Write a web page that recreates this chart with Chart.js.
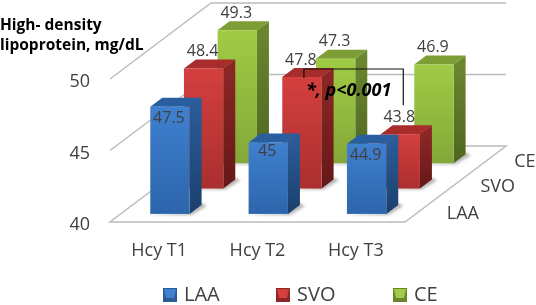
<!DOCTYPE html>
<html>
<head>
<meta charset="utf-8">
<style>
  html, body { margin: 0; padding: 0; background: #fff; }
  #wrap { width: 536px; height: 305px; }
</style>
<script src="https://cdn.jsdelivr.net/npm/chart.js@4/dist/chart.umd.js"></script>
</head>
<body>
<div id="wrap"><canvas id="myChart"></canvas></div>
<script>
const categories = ['Hcy T1', 'Hcy T2', 'Hcy T3'];
const seriesNames = ['LAA', 'SVO', 'CE'];
const laaValues = [47.5, 45, 44.9];
const svoValues = [48.4, 47.8, 43.8];
const ceValues = [49.3, 47.3, 46.9];
const titleLines = ['High- density', 'lipoprotein, mg/dL'];
const pValueText = '*, p<0.001';

const FONT = '"Open Sans", "Noto Sans", sans-serif';
const TEXT = '#404040';

// fake 3d: floor depth and the depth of one box
const floorDx = 101, floorDy = 76;
const boxDx = 12, boxDy = 9;
const rowGap = 0.32;

const palette = [
    { front: ['#3f80cf', '#2c65ab'], side: ['#2a5b97', '#1b3f6c'], top: '#2a5f9f' },
    { front: ['#d43f3f', '#ab2f2f'], side: ['#8c2626', '#651818'], top: '#a82c2c' },
    { front: ['#a0cb45', '#84a838'], side: ['#6a862f', '#4e6620'], top: '#7d9e34' }
];

function rowOffset(row) {
    const t = (row + rowGap) / seriesNames.length;
    return { x: floorDx * t, y: floorDy * t };
}

class Bar3DController extends Chart.BarController {
    draw() {
        const ctx = this.chart.ctx;
        const colors = palette[this.index];
        const off = rowOffset(this.index);
        const floorY = this.chart.scales.y.getPixelForValue(this.chart.scales.y.min);
        this.getMeta().data.forEach(bar => {
            const p = bar.getProps(['x', 'y', 'width'], true);
            const l = p.x - p.width / 2 + off.x;
            const r = l + p.width;
            const t = p.y - off.y;
            const b = floorY - off.y;

            // soft shadow on the floor
            ctx.save();
            ctx.filter = 'blur(1.5px)';
            ctx.fillStyle = 'rgba(0,0,0,0.3)';
            ctx.beginPath();
            ctx.moveTo(l - 4, b + 1);
            ctx.lineTo(r + 2, b + 1);
            ctx.lineTo(r + boxDx + 5, b - boxDy + 1);
            ctx.lineTo(r + boxDx, b - boxDy - 2);
            ctx.lineTo(r, b - 2);
            ctx.closePath();
            ctx.fill();
            ctx.restore();

            // side
            let g = ctx.createLinearGradient(0, t, 0, b);
            g.addColorStop(0, colors.side[0]);
            g.addColorStop(1, colors.side[1]);
            ctx.fillStyle = g;
            ctx.beginPath();
            ctx.moveTo(r, t);
            ctx.lineTo(r + boxDx, t - boxDy);
            ctx.lineTo(r + boxDx, b - boxDy);
            ctx.lineTo(r, b);
            ctx.closePath();
            ctx.fill();

            // top
            ctx.fillStyle = colors.top;
            ctx.beginPath();
            ctx.moveTo(l, t);
            ctx.lineTo(l + boxDx, t - boxDy);
            ctx.lineTo(r + boxDx, t - boxDy);
            ctx.lineTo(r, t);
            ctx.closePath();
            ctx.fill();

            // front
            g = ctx.createLinearGradient(0, t, 0, b);
            g.addColorStop(0, colors.front[0]);
            g.addColorStop(1, colors.front[1]);
            ctx.fillStyle = g;
            ctx.fillRect(l, t, p.width, b - t);
        });
    }
}
Bar3DController.id = 'bar3d';
Bar3DController.defaults = Chart.BarController.defaults;
Bar3DController.overrides = Chart.BarController.overrides;
Chart.register(Bar3DController);

const backdrop = {
    id: 'backdrop',
    beforeDatasetsDraw(chart) {
        const { ctx, scales: { x, y } } = chart;
        const left = x.left, right = x.right;
        ctx.save();
        ctx.strokeStyle = '#bcbcbc';
        ctx.lineWidth = 1.5;
        // floor
        const y0 = y.getPixelForValue(40);
        ctx.beginPath();
        ctx.moveTo(left, y0);
        ctx.lineTo(right, y0);
        ctx.lineTo(right + floorDx, y0 - floorDy);
        ctx.lineTo(left + floorDx, y0 - floorDy);
        ctx.closePath();
        ctx.stroke();
        // wall lines
        y.ticks.forEach(tick => {
            if (tick.value === 40) return;
            const py = y.getPixelForValue(tick.value);
            ctx.beginPath();
            ctx.moveTo(left, py);
            ctx.lineTo(left + floorDx, py - floorDy);
            ctx.lineTo(right + floorDx, py - floorDy);
            ctx.stroke();
        });
        ctx.restore();
    },
    afterDraw(chart) {
        const { ctx, scales: { x, y } } = chart;
        ctx.save();
        ctx.textBaseline = 'middle';

        // value labels
        ctx.font = '16px ' + FONT;
        ctx.fillStyle = TEXT;
        ctx.textAlign = 'center';
        chart.data.datasets.forEach((ds, row) => {
            const off = rowOffset(row);
            chart.getDatasetMeta(row).data.forEach((bar, i) => {
                const lx = bar.x + off.x;
                const topY = bar.y - off.y;
                // front row sits inside the box, the rest float above it
                const ly = row === 0 ? topY + (ds.data[i] === 45 ? 9 : 12) : topY - 17;
                ctx.fillText(String(ds.data[i]), lx - 1, ly);
            });
        });

        // depth axis labels
        ctx.font = '18px ' + FONT;
        ctx.textAlign = 'left';
        const y0 = y.getPixelForValue(40);
        seriesNames.forEach((name, row) => {
            const t = (row + 0.5) / seriesNames.length;
            ctx.fillText(name, x.right + floorDx * t + 25, y0 - floorDy * t + 3 + (row === 0 ? 2 : 0));
        });

        // significance bracket between the SVO boxes
        const off = rowOffset(1);
        const svo = chart.getDatasetMeta(1).data;
        const x1 = svo[1].x + off.x + 2, x2 = svo[2].x + off.x + 3;
        const y1 = svo[1].y - off.y, y2 = svo[2].y - off.y;
        ctx.strokeStyle = '#111';
        ctx.lineWidth = 1.2;
        ctx.beginPath();
        ctx.moveTo(x1, y1 + 1);
        ctx.lineTo(x1, y1 - 8);
        ctx.lineTo(x2, y1 - 8);
        ctx.lineTo(x2, y2 - 29);
        ctx.stroke();
        ctx.fillStyle = '#000';
        ctx.font = 'italic bold 18px ' + FONT;
        ctx.fillText(pValueText, x1 + 2, y1 + 14);

        // legend
        const markerX = [163, 276, 393];
        ctx.font = '20px ' + FONT;
        seriesNames.forEach((name, i) => {
            const mx = markerX[i], my = 288, s = 14;
            const c = palette[i];
            ctx.fillStyle = c.side[0];
            ctx.fillRect(mx, my, s, s);
            ctx.fillStyle = c.front[0];
            ctx.beginPath();
            ctx.moveTo(mx + 1, my + 1);
            ctx.lineTo(mx + s - 1, my + 1);
            ctx.lineTo(mx + s - 3, my + s - 4);
            ctx.lineTo(mx + 3, my + s - 4);
            ctx.closePath();
            ctx.fill();
            ctx.fillStyle = TEXT;
            ctx.fillText(name, mx + 21, 295);
        });
        ctx.restore();
    }
};

new Chart(document.getElementById('myChart'), {
    type: 'bar3d',
    data: {
        labels: categories,
        datasets: [
            { label: seriesNames[0], data: laaValues },
            { label: seriesNames[1], data: svoValues },
            { label: seriesNames[2], data: ceValues }
        ]
    },
    plugins: [backdrop],
    options: {
        responsive: true,
        maintainAspectRatio: false,
        animation: false,
        clip: false,
        grouped: false,
        barPercentage: 0.4,
        categoryPercentage: 1,
        layout: { padding: { left: 0, right: 131, top: 0, bottom: 33 } },
        plugins: {
            legend: { display: false },
            tooltip: { enabled: false },
            title: {
                display: true,
                text: titleLines,
                align: 'start',
                color: '#000',
                font: { family: FONT, size: 15.5, weight: 'bold', lineHeight: 1.29 },
                padding: { top: 16, bottom: 23 }
            }
        },
        scales: {
            x: {
                grid: { display: false },
                border: { display: false },
                ticks: { color: TEXT, font: { family: FONT, size: 18 }, padding: 10 },
                afterFit(scale) { scale.height = 50; }
            },
            y: {
                min: 40,
                max: 50,
                grid: { display: false },
                border: { display: false },
                ticks: { stepSize: 5, color: TEXT, font: { family: FONT, size: 18 }, padding: 12, labelOffset: 3 },
                afterFit(scale) { scale.width = 110; }
            }
        }
    }
});
</script>
</body>
</html>
